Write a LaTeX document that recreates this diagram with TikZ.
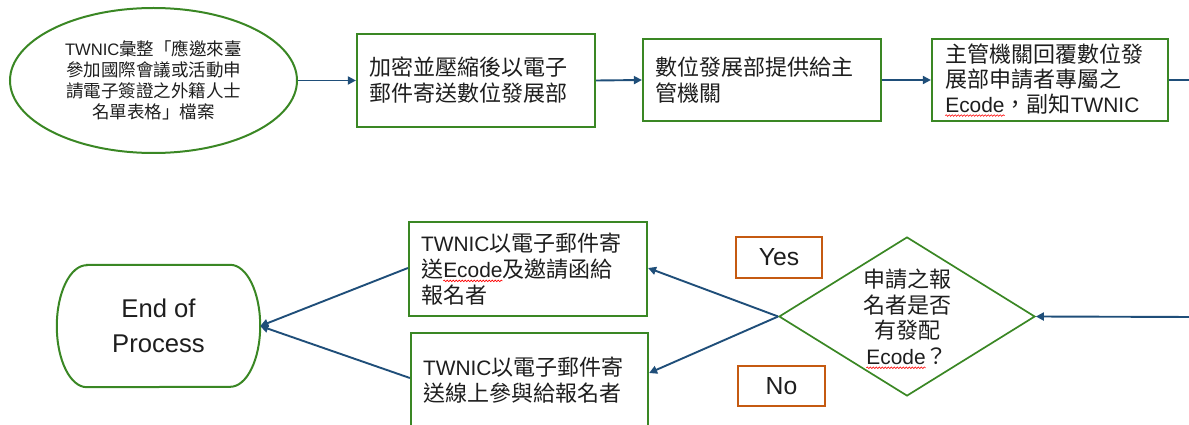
\documentclass[tikz,border=0pt]{standalone}
\usepackage{fontspec}
\setmainfont{Noto Sans CJK TC}
\newfontfamily\lat[Scale=0.95]{Liberation Sans}
\usetikzlibrary{shapes.geometric,arrows.meta,decorations.pathmorphing}
\definecolor{gbord}{RGB}{58,135,36}
\definecolor{arrblue}{RGB}{31,78,121}
\definecolor{oran}{RGB}{197,90,17}
\definecolor{txt}{RGB}{30,30,30}
\newcommand\redwave[1]{\tikz[baseline=(w.base),x=1pt,y=1pt]{\node[rectangle, draw=none, fill=none,
  minimum width=0pt, minimum height=0pt, text width=, align=center, inner sep=0pt, outer sep=0pt,
  font=\lat] (w) {#1};
  \draw[red, line width=0.6pt, decorate, decoration={snake,amplitude=0.8pt,segment length=3pt}]
  ([yshift=-3.5pt]w.base west) -- ([yshift=-3.5pt]w.base east);}}
\tikzset{
  gbox/.style={draw=gbord, line width=2.2pt, fill=white, rectangle, align=left,
    inner xsep=12pt, inner ysep=0pt, text=txt,
    font=\fontsize{22pt}{26pt}\selectfont},
  lbl/.style={draw=oran, line width=2.2pt, rectangle, inner sep=0pt, text=txt,
    font=\lat\fontsize{26pt}{30pt}\selectfont},
  conn/.style={draw=arrblue, line width=1.9pt, -{Triangle[length=8pt,width=8pt]}},
  plain/.style={draw=arrblue, line width=1.9pt}
}
\begin{document}
\begin{tikzpicture}[x=1pt,y=-1pt]
\useasboundingbox (0,0) rectangle (1189,425);
% top row
\node[ellipse, draw=gbord, line width=2pt, minimum width=287pt, minimum height=145pt,
  inner sep=0pt, align=center, text=txt, font=\fontsize{17.5pt}{21pt}\selectfont]
  (start) at (153.5,80.5)
  {{\lat TWNIC}彙整「應邀來臺\\參加國際會議或活動申\\請電子簽證之外籍人士\\名單表格」檔案};
\node[gbox, minimum width=238pt, minimum height=93pt, text width=214pt] (b1) at (476,80.5)
  {加密並壓縮後以電子\\郵件寄送數位發展部};
\node[gbox, minimum width=238pt, minimum height=82pt, text width=214pt] (b2) at (762,80)
  {數位發展部提供給主\\管機關};
\node[gbox, minimum width=236pt, minimum height=82pt, text width=210pt,
  font=\fontsize{22pt}{25pt}\selectfont] (b3) at (1050,80)
  {主管機關回覆數位發\\展部申請者專屬之\\\redwave{Ecode}，副知{\lat TWNIC}};
\coordinate (topout) at (1195,80);
\coordinate (botin) at (1195,317);
% bottom row
\node[diamond, draw=gbord, line width=1.7pt, minimum width=256pt, minimum height=159pt,
  inner sep=0pt] (dec) at (907,316.5) {};
\node[align=center, text=txt, inner sep=0pt, font=\fontsize{22pt}{25.5pt}\selectfont]
  (dect) at (907,319) {申請之報\\名者是否\\有發配\\\redwave{Ecode}？};
\node[gbox, minimum width=238pt, minimum height=94pt, text width=214pt] (b4) at (528,269)
  {{\lat TWNIC}以電子郵件寄\\送\redwave{Ecode}及邀請函給\\報名者};
\node[gbox, minimum width=237pt, minimum height=94pt, text width=213pt] (b5) at (529.5,380)
  {{\lat TWNIC}以電子郵件寄\\送線上參與給報名者};
\node[minimum width=203pt, minimum height=122pt, inner sep=0pt, align=center, text=txt,
  font=\lat\fontsize{27pt}{35pt}\selectfont] (end) at (158.5,326) {End of\\Process};
\draw[gbord, line width=2pt]
  ([xshift=30pt]end.north west) -- ([xshift=-30pt]end.north east)
  arc[start angle=90, end angle=-90, x radius=30pt, y radius=61pt]
  -- ([xshift=30pt]end.south west)
  arc[start angle=270, end angle=90, x radius=30pt, y radius=61pt] -- cycle;
\node[lbl, minimum width=86pt, minimum height=41pt] (yes) at (779,257.5) {Yes};
\node[lbl, minimum width=87pt, minimum height=40pt] (no) at (781.5,386) {No};
% connectors
\draw[conn] (start.east) -- (b1.west);
\draw[conn] (b1.east) -- (b2.west);
\draw[conn] (b2.east) -- (b3.west);
\draw[plain] (b3.east) -- (topout);
\draw[conn] (botin) -- (dec.east);
\draw[conn] (dec.west) -- ([yshift=1pt]b4.east);
\draw[conn] (dec.west) -- ([yshift=7pt]b5.east);
\draw[conn] ([yshift=1pt]b4.west) -- (end.east);
\draw[conn] ([yshift=2pt]b5.west) -- (end.east);
\end{tikzpicture}
\end{document}
